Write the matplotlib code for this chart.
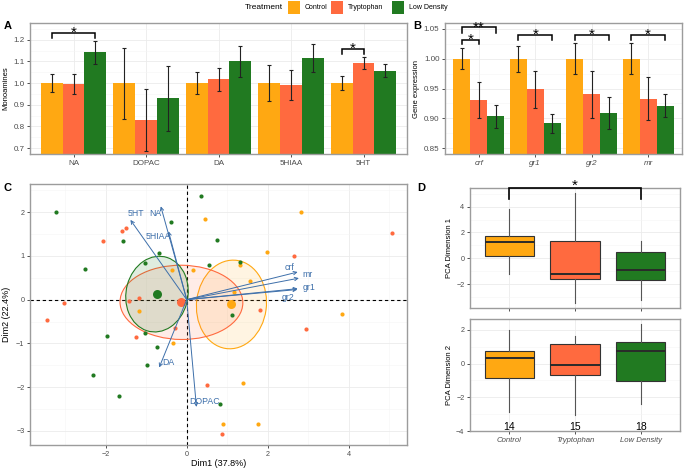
import numpy as np
import matplotlib
matplotlib.use("Agg")
import matplotlib.pyplot as plt
from matplotlib.patches import Ellipse, Rectangle
from matplotlib.ticker import FixedLocator

plt.rcParams['font.family'] = ['Liberation Sans', 'DejaVu Sans']

# ---------------- data ----------------
treatments = ["Control", "Tryptophan", "Low Density"]
colors = ["#FFA812", "#FF6A3F", "#217A21"]

monoamines = ["NA", "DOPAC", "DA", "5HIAA", "5HT"]
mono_control = [1.000, 1.000, 1.000, 1.000, 1.000]
mono_control_err = [0.043, 0.164, 0.049, 0.085, 0.031]
mono_tryp = [0.995, 0.830, 1.018, 0.992, 1.093]
mono_tryp_err = [0.047, 0.142, 0.053, 0.069, 0.027]
mono_lowd = [1.142, 0.930, 1.100, 1.117, 1.058]
mono_lowd_err = [0.054, 0.149, 0.073, 0.065, 0.031]

genes = ["crf", "gr1", "gr2", "mr"]
gene_control = [1.000, 1.000, 1.000, 1.000]
gene_control_err = [0.018, 0.022, 0.026, 0.026]
gene_tryp = [0.931, 0.949, 0.940, 0.933]
gene_tryp_err = [0.030, 0.031, 0.040, 0.036]
gene_lowd = [0.903, 0.892, 0.909, 0.921]
gene_lowd_err = [0.020, 0.016, 0.027, 0.019]

# PCA individual coordinates (Dim1, Dim2)
ctrl_dim1 = [0.45, 2.83, 1.98, 1.31, -0.36, 0.15, 1.57, 1.17, -1.17, -0.35, 3.83, 1.40, 0.90, 1.76]
ctrl_dim2 = [1.84, 2.00, 1.08, 0.78, 0.67, 0.67, 0.43, 0.18, -0.27, -1.00, -0.33, -1.91, -2.84, -2.85]
tryp_dim1 = [-1.60, -1.50, -2.07, 2.64, 5.07, -1.18, -1.42, -3.04, -3.45, 1.80, -0.28, -1.25, 2.94, 0.50, 0.88]
tryp_dim2 = [1.57, 1.63, 1.34, 0.99, 1.51, 0.03, -0.04, -0.07, -0.47, -0.24, -0.65, -0.86, -0.67, -1.94, -3.07]
lowd_dim1 = [-3.24, 0.36, -0.38, -1.57, 0.74, -0.68, -1.03, -2.51, 0.56, 1.31, 1.12, -1.04, -1.96, -0.74, -0.98, -2.31, -1.68, 0.82]
lowd_dim2 = [1.99, 2.37, 1.78, 1.34, 1.36, 1.06, 0.84, 0.70, 0.80, 0.87, -0.36, -0.77, -0.84, -1.08, -1.50, -1.72, -2.19, -2.39]

# PCA variable loadings
pca_vars = ["5HT", "NA", "5HIAA", "crf", "mr", "gr1", "gr2", "DA", "DOPAC"]
load_dim1 = [-1.39, -0.64, -0.45, 2.74, 2.77, 2.74, 2.73, -0.68, 0.24]
load_dim2 = [1.82, 2.13, 1.56, 0.63, 0.49, 0.25, 0.23, -1.55, -2.45]

# ---------------- layout ----------------
W, H = 685, 468
fig = plt.figure(figsize=(W / 100, H / 100), dpi=100)

def ax_at(l, t, r, b):
    return fig.add_axes([l / W, 1 - b / H, (r - l) / W, (b - t) / H])

FRAME = "#9C9C9C"
GRID_MAJ = "#EBEBEB"
GRID_MIN = "#F5F5F5"
TICKC = "#4D4D4D"

def style(ax, tick_fs):
    for s in ax.spines.values():
        s.set_color(FRAME)
        s.set_linewidth(1.0)
    ax.tick_params(which='major', length=2.5, width=0.6, color="#333333",
                   labelsize=tick_fs, labelcolor=TICKC, pad=1.5)
    ax.tick_params(which='minor', length=0)
    ax.grid(True, which='major', color=GRID_MAJ, lw=0.6, zorder=0)
    ax.grid(True, which='minor', color=GRID_MIN, lw=0.4, zorder=0)
    ax.set_axisbelow(True)

def star(ax, x, y, s, fs=11):
    ax.annotate(s, xy=(x, y), xytext=(0, -0.62 * fs), textcoords='offset points',
                ha='center', va='baseline', fontsize=fs, color='black',
                annotation_clip=False)

def bracket(ax, x1, x2, y, ytip, lw=1.1):
    ax.plot([x1, x1, x2, x2], [ytip, y, y, ytip], color='black', lw=lw,
            clip_on=False, zorder=5, solid_joinstyle='miter')

# ---------------- Panel A ----------------
axA = ax_at(30, 23, 407, 154)
style(axA, 5.8)
xa = np.arange(1, len(monoamines) + 1)
bw = 0.3
for i, (vals, errs) in enumerate([(mono_control, mono_control_err),
                                   (mono_tryp, mono_tryp_err),
                                   (mono_lowd, mono_lowd_err)]):
    pos = xa + (i - 1) * bw
    axA.bar(pos, vals, width=bw, color=colors[i], zorder=2)
    axA.errorbar(pos, vals, yerr=errs, fmt='none', ecolor='#222222',
                 elinewidth=0.8, capsize=1.6, capthick=0.8, zorder=3)
axA.set_xlim(0.4, 5.6)
axA.set_ylim(0.6725, 1.2775)
axA.set_xticks(xa)
axA.set_xticklabels(monoamines)
axA.yaxis.set_major_locator(FixedLocator([0.7, 0.8, 0.9, 1.0, 1.1, 1.2]))
axA.yaxis.set_minor_locator(FixedLocator([0.75, 0.85, 0.95, 1.05, 1.15, 1.25]))
axA.set_ylabel("Monoamines", fontsize=5.5, labelpad=3)
bracket(axA, 0.7, 1.3, 1.230, 1.2075)
star(axA, 1.0, 1.257, "*")
bracket(axA, 4.7, 5.0, 1.158, 1.135)
star(axA, 4.85, 1.186, "*")

# ---------------- Panel B ----------------
axB = ax_at(445, 23, 682, 154)
style(axB, 5.8)
xb = np.arange(1, len(genes) + 1)
for i, (vals, errs) in enumerate([(gene_control, gene_control_err),
                                   (gene_tryp, gene_tryp_err),
                                   (gene_lowd, gene_lowd_err)]):
    pos = xb + (i - 1) * bw
    axB.bar(pos, vals, width=bw, color=colors[i], zorder=2)
    axB.errorbar(pos, vals, yerr=errs, fmt='none', ecolor='#222222',
                 elinewidth=0.8, capsize=1.6, capthick=0.8, zorder=3)
axB.set_xlim(0.4, 4.6)
axB.set_ylim(0.84, 1.06)
axB.set_xticks(xb)
axB.set_xticklabels(genes, fontstyle='italic')
axB.yaxis.set_major_locator(FixedLocator([0.85, 0.90, 0.95, 1.00, 1.05]))
axB.yaxis.set_major_formatter(matplotlib.ticker.FormatStrFormatter('%.2f'))
axB.yaxis.set_minor_locator(FixedLocator([0.875, 0.925, 0.975, 1.025]))
axB.set_ylabel("Gene expression", fontsize=5.5, labelpad=3)
bracket(axB, 0.7, 1.0, 1.0322, 1.0240)
star(axB, 0.85, 1.0417, "*")
bracket(axB, 0.7, 1.3, 1.0528, 1.0440)
star(axB, 1.0, 1.0606, "**")
for g in (2, 3, 4):
    bracket(axB, g - 0.3, g + 0.3, 1.0406, 1.0310)
    star(axB, g, 1.0489, "*")

# ---------------- Panel C ----------------
axC = ax_at(30, 184, 407, 445)
style(axC, 5.2)
groups = [(ctrl_dim1, ctrl_dim2), (tryp_dim1, tryp_dim2), (lowd_dim1, lowd_dim2)]
axC.axhline(0, color='black', ls=(0, (3, 2.5)), lw=0.8, zorder=1)
axC.axvline(0, color='black', ls=(0, (3, 2.5)), lw=0.8, zorder=1)
for i, (gx, gy) in enumerate(groups):
    gx = np.asarray(gx); gy = np.asarray(gy)
    n = len(gx)
    cov = np.cov(gx, gy) / n
    vals, vecs = np.linalg.eigh(cov)
    order = vals.argsort()[::-1]
    vals, vecs = vals[order], vecs[:, order]
    ang = np.degrees(np.arctan2(vecs[1, 0], vecs[0, 0]))
    w, h = 2 * np.sqrt(5.991 * vals)
    alpha_fill = 0.12 if i != 2 else 0.14
    e = Ellipse((gx.mean(), gy.mean()), w, h, angle=ang, facecolor=colors[i],
                alpha=alpha_fill, edgecolor='none', zorder=2)
    axC.add_patch(e)
    e2 = Ellipse((gx.mean(), gy.mean()), w, h, angle=ang, facecolor='none',
                 edgecolor=colors[i], lw=0.8, zorder=2)
    axC.add_patch(e2)
for i, (gx, gy) in enumerate(groups):
    axC.scatter(gx, gy, s=9, color=colors[i], zorder=3, linewidths=0)
    axC.scatter([np.mean(gx)], [np.mean(gy)], s=42, color=colors[i], zorder=4, linewidths=0)

label_pos = {"5HT": (-1.26, 1.97), "NA": (-0.77, 1.97), "5HIAA": (-0.71, 1.45),
             "crf": (2.55, 0.74), "mr": (2.99, 0.57), "gr1": (3.01, 0.27),
             "gr2": (2.50, 0.05), "DA": (-0.46, -1.44), "DOPAC": (0.45, -2.32)}
ARROWC = "#3D6FAA"
for name, lx, ly in zip(pca_vars, load_dim1, load_dim2):
    axC.annotate("", xy=(lx, ly), xytext=(0, 0),
                 arrowprops=dict(arrowstyle='->', color=ARROWC, lw=0.7,
                                 shrinkA=0, shrinkB=0, mutation_scale=6),
                 zorder=5)
    tx, ty = label_pos[name]
    axC.text(tx, ty, name, color=ARROWC, fontsize=6.3, ha='center', va='center', zorder=6)
axC.set_xlim(-3.87, 5.44)
axC.set_ylim(-3.32, 2.64)
axC.xaxis.set_major_locator(FixedLocator([-2, 0, 2, 4]))
axC.xaxis.set_minor_locator(FixedLocator([-3, -1, 1, 3, 5]))
axC.yaxis.set_major_locator(FixedLocator([-3, -2, -1, 0, 1, 2]))
axC.yaxis.set_minor_locator(FixedLocator([-2.5, -1.5, -0.5, 0.5, 1.5, 2.5]))
axC.set_xlabel("Dim1 (37.8%)", fontsize=6.5, labelpad=1)
axC.set_ylabel("Dim2 (22.4%)", fontsize=6.5, labelpad=4)

# ---------------- Panel D ----------------
axD1 = ax_at(470, 188, 680, 308)
axD2 = ax_at(470, 319, 680, 431)
dim1_groups = [ctrl_dim1, tryp_dim1, lowd_dim1]
dim2_groups = [ctrl_dim2, tryp_dim2, lowd_dim2]
for ax, data in ((axD1, dim1_groups), (axD2, dim2_groups)):
    style(ax, 5.2)
    bp = ax.boxplot(data, positions=[1, 2, 3], widths=0.75, patch_artist=True,
                    whis=1.5, showfliers=False, showcaps=False,
                    medianprops=dict(color='#2A2A2A', lw=1.4),
                    whiskerprops=dict(color='#555555', lw=0.8),
                    boxprops=dict(edgecolor='#333333', lw=0.8), zorder=3)
    for patch, c in zip(bp['boxes'], colors):
        patch.set_facecolor(c)
    ax.set_xlim(0.4, 3.6)
    ax.set_xticks([1, 2, 3])
axD1.set_ylim(-3.82, 5.43)
axD1.yaxis.set_major_locator(FixedLocator([-2, 0, 2, 4]))
axD1.yaxis.set_minor_locator(FixedLocator([-3, -1, 1, 3, 5]))
axD1.set_xticklabels([])
axD1.set_ylabel("PCA Dimension 1", fontsize=5.5, labelpad=2)
bracket(axD1, 1, 3, 5.45, 4.6, lw=1.2)
star(axD1, 2, 6.05, "*")
axD2.set_ylim(-4.0, 2.64)
axD2.yaxis.set_major_locator(FixedLocator([-4, -2, 0, 2]))
axD2.yaxis.set_minor_locator(FixedLocator([-3, -1, 1]))
axD2.set_xticklabels(treatments, fontstyle='italic', fontsize=5.6)
axD2.set_ylabel("PCA Dimension 2", fontsize=5.5, labelpad=2)
for k, g in enumerate(dim2_groups):
    axD2.text(k + 1, -3.75, str(len(g)), ha='center', va='center', fontsize=7.5, color='black', zorder=6)

# ---------------- panel letters ----------------
for lab, x, y in (("A", 4, 26), ("B", 413, 26), ("C", 4, 188), ("D", 417, 188)):
    fig.text(x / W, 1 - y / H, lab, fontsize=8, fontweight='bold', va='center', ha='left')

# ---------------- legend ----------------
fig.text(245 / W, 1 - 7.5 / H, "Treatment", fontsize=6, va='center', ha='left')
key_x = [288, 331, 392]
lab_x = [305, 348, 409]
for c, kx, lx, t in zip(colors, key_x, lab_x, treatments):
    fig.patches.append(Rectangle((kx / W, 1 - 13.5 / H), 12 / W, 12 / H,
                                 transform=fig.transFigure, facecolor=c, edgecolor='none'))
    fig.text(lx / W, 1 - 7.5 / H, t, fontsize=5, va='center', ha='left')

fig.savefig("out.png", dpi=100)
